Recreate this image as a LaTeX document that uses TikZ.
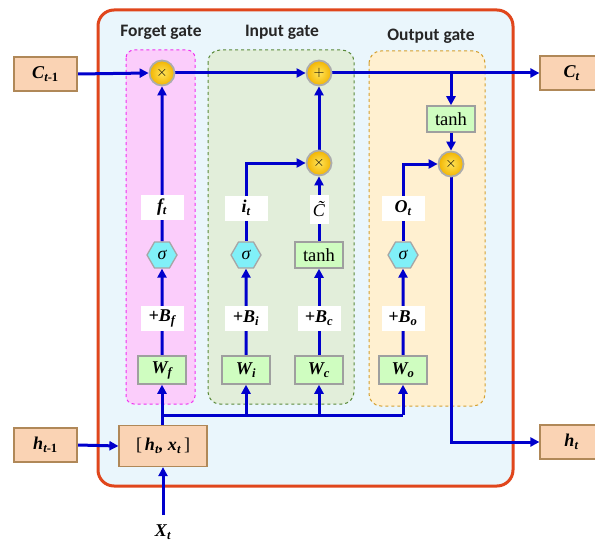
\documentclass[tikz,border=0pt]{standalone}
\usepackage{fontspec}
\setmainfont{Liberation Serif}
\newfontfamily\titlefont{Carlito}
\usetikzlibrary{arrows.meta,shapes.geometric}
\definecolor{lineblue}{HTML}{0000CC}
\definecolor{outerfill}{HTML}{EAF6FC}
\definecolor{outerdraw}{HTML}{E0461C}
\definecolor{fgfill}{HTML}{FBCDFB}
\definecolor{fgdraw}{HTML}{F030F0}
\definecolor{igfill}{HTML}{E2EEDA}
\definecolor{igdraw}{HTML}{5A8A3A}
\definecolor{ogfill}{HTML}{FFF0D0}
\definecolor{ogdraw}{HTML}{D4A030}
\definecolor{peachfill}{HTML}{FAD3B4}
\definecolor{peachdraw}{HTML}{B08858}
\definecolor{greenfill}{HTML}{CFFDC0}
\definecolor{hexfill}{HTML}{80F0F8}
\definecolor{goldin}{HTML}{FFE45A}
\definecolor{goldout}{HTML}{F2B400}
\pgfdeclarelayer{bg}
\pgfdeclarelayer{edges}
\pgfsetlayers{bg,edges,main}
\tikzset{
  lab/.style={fill=white, inner sep=0pt, minimum width=43pt, minimum height=25pt,
    font=\fontsize{18}{18}\selectfont\bfseries\itshape},
  wbox/.style={draw=gray!75, line width=1.5pt, fill=greenfill, minimum width=48pt,
    minimum height=28pt, inner sep=0pt, font=\fontsize{18}{18}\selectfont\bfseries\itshape},
  tbox/.style={draw=gray!75, line width=1.5pt, fill=greenfill, minimum width=48pt,
    minimum height=26pt, inner sep=0pt, font=\fontsize{18.5}{18.5}\selectfont},
  peach/.style={draw=peachdraw, line width=1.2pt, fill=peachfill, minimum width=63pt,
    minimum height=34pt, inner sep=0pt, font=\fontsize{18}{18}\selectfont\bfseries\itshape},
  op/.style={circle, minimum size=25pt, inner sep=0pt, draw=gray!65, line width=1.8pt,
    inner color=goldin, outer color=goldout, font=\fontsize{15}{15}\selectfont},
  hex/.style={regular polygon, regular polygon sides=6, minimum size=30pt, inner sep=0pt,
    draw=gray!70, line width=1.3pt, fill=hexfill, font=\fontsize{18}{18}\selectfont\itshape},
  ttl/.style={font=\titlefont\fontsize{17.5}{17.5}\selectfont\bfseries, text=black!85},
  conn/.style={line width=3pt, draw=lineblue},
  arr/.style={conn, -{Triangle[length=9pt,width=9pt]}},
}
\begin{document}
\begin{tikzpicture}[x=1pt,y=-1pt]
\useasboundingbox (0,0) rectangle (595,543);
% regions
\begin{pgfonlayer}{bg}
\draw[fill=outerfill, draw=outerdraw, line width=3pt, rounded corners=16pt] (98,10) rectangle (513,486);
\draw[fill=fgfill, draw=fgdraw, dashed, line width=1pt, rounded corners=8pt] (126,50) rectangle (195,404);
\draw[fill=igfill, draw=igdraw, dashed, line width=1pt, rounded corners=12pt] (208,50) rectangle (354,404);
\draw[fill=ogfill, draw=ogdraw, dashed, line width=1pt, rounded corners=12pt] (369,51) rectangle (485,406);
\end{pgfonlayer}
% titles
\node[ttl] (tf) at (161,32) {Forget gate};
\node[ttl] (ti) at (282,32) {Input gate};
\node[ttl] (to) at (431,36) {Output gate};
% outside boxes
\node[peach] (cprev) at (45.5,74) {C\textsubscript{t\upshape -1}};
\node[peach] (ct) at (571.5,73) {C\textsubscript{t}};
\node[peach] (hprev) at (45.5,445) {h\textsubscript{t\upshape -1}};
\node[peach] (ht) at (571.5,442) {h\textsubscript{t}};
\node[peach, minimum width=88pt, minimum height=41pt] (cat) at (163,446)
  {{\upshape\mdseries[}\,h\textsubscript{t}, x\textsubscript{t}\,{\upshape\mdseries]}};
\node[font=\fontsize{18}{18}\selectfont\bfseries\itshape] (xt) at (163,532) {X\textsubscript{t}};
\coordinate (xtin) at (163,515);
% operators
\node[op] (xf) at (162,73) {$\times$};
\node[op] (plus) at (319,73) {$+$};
\node[op] (xi) at (319,163) {$\times$};
\node[op] (xo) at (451,164) {$\times$};
\node[tbox] (tanho) at (451,119) {tanh};
% forget column
\node[lab] (ft) at (162,207) {f\textsubscript{t}};
\node[hex] (sigf) at (162,255) {σ};
\node[lab] (bf) at (162,318) {+B\textsubscript{f}};
\node[wbox] (wf) at (162,370) {W\textsubscript{f}};
% input column
\node[lab] (it) at (246,208) {i\textsubscript{t}};
\node[hex] (sigi) at (246,255) {σ};
\node[lab] (bi) at (246,318) {+B\textsubscript{i}};
\node[wbox] (wi) at (246,370) {W\textsubscript{i}};
% candidate column
\node[lab, minimum width=19pt, minimum height=29pt, font=\fontsize{18}{18}\selectfont\itshape] (cc) at (319,209) {\~{C}};
\node[tbox] (tanhc) at (319,255) {tanh};
\node[lab] (bc) at (319,318) {+B\textsubscript{c}};
\node[wbox] (wc) at (319,370) {W\textsubscript{c}};
% output column
\node[lab] (ot) at (403,208) {O\textsubscript{t}};
\node[hex] (sigo) at (403,255) {σ};
\node[lab] (bo) at (403,318) {+B\textsubscript{o}};
\node[wbox] (wo) at (403,370) {W\textsubscript{o}};
\coordinate (bus) at (162,415);
% connectors
\begin{pgfonlayer}{edges}
\draw[arr] (cprev.east) -- (xf.west);
\draw[arr] (xf.east) -- (plus.west);
\draw[arr] (plus.east) -- (ct.west);
\draw[arr] (tanho.north |- plus) -- (tanho.north);
\draw[arr] (tanho.south) -- (xo.north);
\draw[arr] (xi.north) -- (plus.south);
\draw[arr] (xo.south) |- (ht.west);
% forget
\draw[arr] (wf.north) -- (sigf.south);
\draw[arr] (sigf.north) -- (xf.south);
% input
\draw[arr] (wi.north) -- (sigi.south);
\draw[arr] (sigi.north) |- (xi.west);
% candidate
\draw[arr] (wc.north) -- (tanhc.south);
\draw[arr] (tanhc.north) -- (xi.south);
% output
\draw[arr] (wo.north) -- (sigo.south);
\draw[arr] (sigo.north) |- (xo.west);
% inputs
\draw[arr] (hprev.east) -- (cat.west);
\draw[arr] (xtin) -- (cat.south);
\draw[arr] (cat.north -| wf.south) -- (wf.south);
\draw[conn] (bus) -- (wo.south |- bus);
\draw[arr] (wi.south |- bus) -- (wi.south);
\draw[arr] (wc.south |- bus) -- (wc.south);
\draw[arr] (wo.south |- bus) -- (wo.south);
\end{pgfonlayer}
\end{tikzpicture}
\end{document}
